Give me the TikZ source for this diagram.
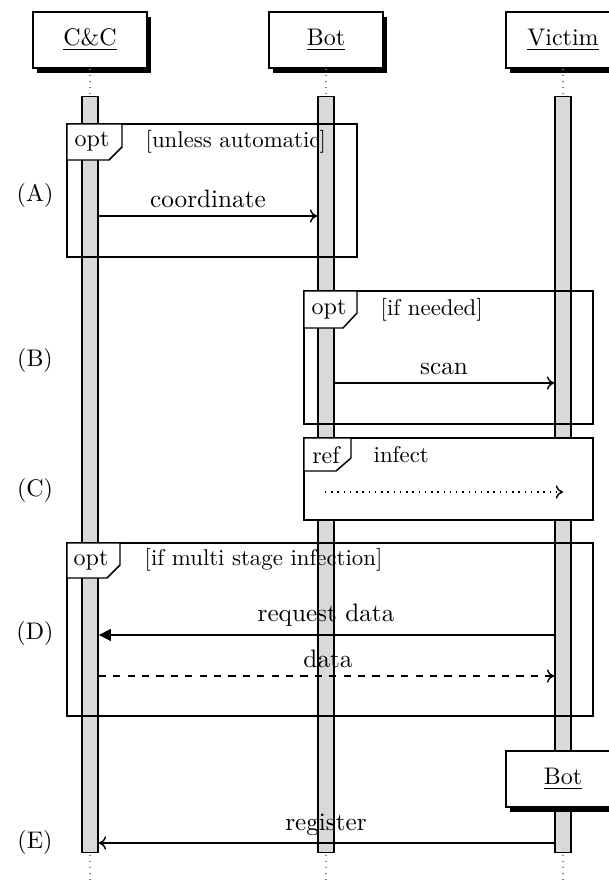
\documentclass[tikz,border=0pt]{standalone}
\usepackage{fontspec}
\usetikzlibrary{arrows.meta}
\begin{document}
\begin{tikzpicture}[x=0.41667pt,y=-0.41667pt,line width=0.6pt,
  inst/.style={draw,fill=white,minimum width=47.5pt,minimum height=23.3pt,inner sep=0pt},
  shadowbox/.style={fill=black,minimum width=47.5pt,minimum height=23.3pt,inner sep=0pt},
  bar/.style={draw,fill=black!15,minimum width=6.8pt,minimum height=315pt,inner sep=0pt},
  life/.style={draw=gray,dotted,line width=0.5pt},
  tabshape/.style={draw,fill=white},
  msg/.style={-{To[length=3pt,width=5.5pt]}},
  fmsg/.style={-{Triangle[length=5pt,width=5pt]}},
  lbl/.style={anchor=base,inner sep=0pt,font=\fontsize{10.5}{12}\selectfont},
  cond/.style={anchor=west,inner sep=0pt,font=\fontsize{9.5}{11}\selectfont}]
\useasboundingbox (0,0) rectangle (608,880);
% shadows and instances
\node[shadowbox] (ccs) at (94,45) {};
\node[shadowbox] (bots) at (330,45) {};
\node[shadowbox] (vics) at (567,45) {};
\node[inst] (cc) at (90,40) {\underline{C\&C}};
\node[inst] (bot) at (326,40) {\underline{Bot}};
\node[inst] (vic) at (563,40) {\underline{Victim}};
% lifelines
\coordinate (ccend) at (90,880);
\coordinate (botend) at (326,880);
\coordinate (vicend) at (563,880);
\draw[life] (cc.south) -- (ccend);
\draw[life] (bot.south) -- (botend);
\draw[life] (vic.south) -- (vicend);
% activation bars
\node[bar] (ccbar) at (90,474.5) {};
\node[bar] (botbar) at (326,474.5) {};
\node[bar] (vicbar) at (563,474.5) {};
% frame A
\draw (67,124) rectangle (357,257);
\draw[tabshape] (67,124) -- (122,124) -- (122,147) -- (109,160) -- (67,160) -- cycle;
\node (optA) at (92,141) {opt};
\node[cond] (condA) at (145,142) {[unless automatic]};
% frame B
\draw (304,291) rectangle (593,424);
\draw[tabshape] (304,291) -- (357,291) -- (357,313) -- (343,328) -- (304,328) -- cycle;
\node (optB) at (329,309) {opt};
\node[cond] (condB) at (380,310) {[if needed]};
% frame C (ref)
\draw[fill=white] (304,438) rectangle (593,520);
\draw[tabshape] (304,438) -- (351,438) -- (351,458) -- (336,471) -- (304,471) -- cycle;
\node (refC) at (326,455) {ref};
\node[cond] (condC) at (373,455) {infect};
% frame D
\draw (67,543) rectangle (593,716);
\draw[tabshape] (67,543) -- (120,543) -- (120,565) -- (107,578) -- (67,578) -- cycle;
\node (optD) at (91,560) {opt};
\node[cond] (condD) at (144,560) {[if multi stage infection]};
% side labels
\node (lA) at (35,195) {(A)};
\node (lB) at (35,360) {(B)};
\node (lC) at (35,490) {(C)};
\node (lD) at (35,633) {(D)};
\node (lE) at (35,842) {(E)};
% message coordinates
\coordinate (a1) at (ccbar.east |- 0,216);
\coordinate (a2) at (botbar.west |- 0,216);
\coordinate (b1) at (botbar.east |- 0,383);
\coordinate (b2) at (vicbar.west |- 0,383);
\coordinate (c1) at (325,492);
\coordinate (c2) at (563,492);
\coordinate (d1) at (vicbar.west |- 0,635);
\coordinate (d2) at (ccbar.east |- 0,635);
\coordinate (e1) at (ccbar.east |- 0,676);
\coordinate (e2) at (vicbar.west |- 0,676);
\coordinate (r1) at (vicbar.west |- 0,843);
\coordinate (r2) at (ccbar.east |- 0,843);
% messages
\draw[msg] (a1) -- (a2);
\node[lbl] (tA) at (208,207) {coordinate};
\draw[msg] (b1) -- (b2);
\node[lbl] (tB) at (444,374) {scan};
\draw[msg,dotted] (c1) -- (c2);
\draw[fmsg] (d1) -- (d2);
\node[lbl] (tD1) at (326,621) {request data};
\draw[msg,dashed] (e1) -- (e2);
\node[lbl] (tD2) at (328,667) {data};
% new bot instance
\node[shadowbox] (nbots) at (567,784) {};
\node[inst] (nbot) at (563,779) {\underline{Bot}};
\draw[msg] (r1) -- (r2);
\node[lbl] (tE) at (326,830) {register};
\end{tikzpicture}
\end{document}
